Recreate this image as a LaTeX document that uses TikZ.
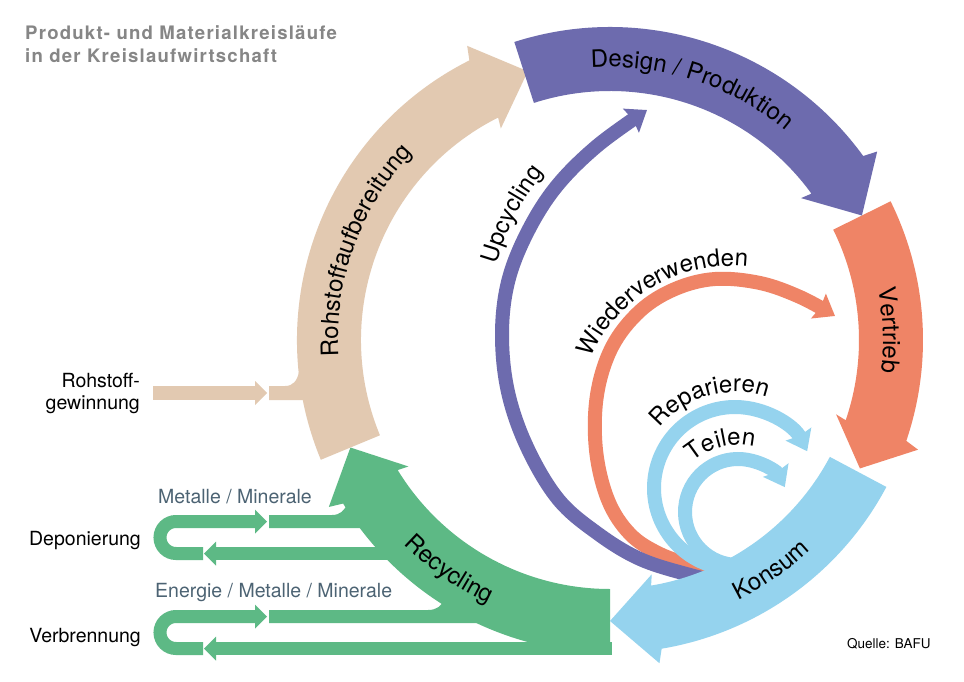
\documentclass[tikz,border=0pt]{standalone}
\usepackage{fontspec}
\setmainfont{TeX Gyre Heros}
\usetikzlibrary{arrows.meta,decorations.text}
\definecolor{cbeige}{HTML}{E2C9B1}
\definecolor{cpurple}{HTML}{6D6BAE}
\definecolor{corange}{HTML}{EF8466}
\definecolor{cblue}{HTML}{95D3EE}
\definecolor{cgreen}{HTML}{5DB985}
\definecolor{ctitle}{HTML}{868686}
\definecolor{cslate}{HTML}{4C6373}
\newcommand\bandfont{\fontsize{24}{28}\selectfont}
\newcommand\lblfont{\fontsize{19.5}{22.6}\selectfont}
\newcommand\titlefont{\fontsize{18.6}{24}\bfseries\addfontfeatures{LetterSpace=6.5}}
\newcommand\srcfont{\fontsize{13.5}{16}\selectfont}
% band arrow: colour, start angle, head base angle, tip angle
\newcommand\bandarrow[4]{%
  \fill[#1] (#2:313) arc[start angle=#2, end angle=#3, radius=313]
    -- ({#3+0.8}:327) -- (#4:281) -- ({#3-0.6}:238) -- (#3:249)
    arc[start angle=#3, end angle=#2, radius=249] -- cycle;}
\tikzset{
  flowarc/.style={line width=14pt, line cap=butt, -{Stealth[width=28pt,length=19pt,inset=2pt]}},
  strip/.style={line width=13pt, line cap=butt},
  arclabel/.style={decorate, decoration={text along path, text align=center, text={|\bandfont|#1}}},
}
\begin{document}
\begin{tikzpicture}[x=1pt,y=-1pt, every node/.style={inner sep=0pt, font=\lblfont}]
\useasboundingbox (0,0) rectangle (964,682);
\fill[white] (0,0) rectangle (964,682);

% title
\node[anchor=base west, text=ctitle, font=\titlefont] (title1) at (25,39.5) {Produkt- und Materialkreisläufe};
\node[anchor=base west, text=ctitle, font=\titlefont] (title2) at (25,63) {in der Kreislaufwirtschaft};

% ---- input / output strips ----
% Rohstoffgewinnung
\fill[cbeige] (153,386) rectangle (255,400);
\fill[cbeige] (255,381) -- (267,393) -- (255,405) -- cycle;
\fill[cbeige] (269,386) -- (285,386) .. controls (293,386) and (297,381) .. (299,372) -- (330,372) -- (330,400) -- (269,400) -- cycle;

% Deponierung
\draw[strip, cgreen] (256,521.5) -- (176,521.5) arc[start angle=270, end angle=90, radius=16] -- (203,553.5);
\fill[cgreen] (255,509.5) -- (267,521.5) -- (255,533.5) -- cycle;
\fill[cgreen] (269,515) -- (332,515) .. controls (340,515) and (344,511) .. (348,503) -- (385,503) -- (385,528) -- (269,528) -- cycle;
\fill[cgreen] (216,547) rectangle (420,560);
\fill[cgreen] (216,541.5) -- (204,553.5) -- (216,565.5) -- cycle;

% Verbrennung
\draw[strip, cgreen] (256,616.5) -- (176,616.5) arc[start angle=270, end angle=90, radius=16] -- (203,648.5);
\fill[cgreen] (255,604.5) -- (267,616.5) -- (255,628.5) -- cycle;
\fill[cgreen] (269,610) -- (428,610) .. controls (437,610) and (441,606) .. (445,599) -- (520,599) -- (520,623) -- (269,623) -- cycle;
\fill[cgreen] (216,642) rectangle (612,654.5);
\fill[cgreen] (216,636.5) -- (204,648.5) -- (216,660.5) -- cycle;

% ---- inner loops ----
\draw[flowarc, corange] plot[smooth, tension=0.6] coordinates {(728,578) (697,567) (660,554) (630,534) (608,500) (596,450) (597,395) (612,347) (640,311) (675,289) (715,279) (760,283) (800,297) (835,316)};
\draw[flowarc, cpurple] plot[smooth, tension=0.6] coordinates {(730,584) (690,575) (640,559) (597,533) (558,499) (527,447) (508,392) (502,335) (508,282) (527,233) (556,187) (597,146) (647,110)};
\draw[flowarc, cblue] (735,488) ++(95:81) arc[start angle=95, end angle=333, radius=81];
\draw[flowarc, cblue] (738,512) ++(95:53) arc[start angle=95, end angle=332, radius=53];

% ---- main ring ----
\begin{scope}[shift={(610,340)}]
\bandarrow{cgreen}{90}{148.5}{157.5}
\bandarrow{cbeige}{157.5}{243.3}{253}
\bandarrow{corange}{333.7}{378.8}{387.2}
\bandarrow{cblue}{388}{440.5}{450}
\bandarrow{cpurple}{252.2}{324}{333.7}
% band labels
\path[arclabel={Design / Produktion}] (248:273) arc[start angle=248, end angle=328, radius=273];
\path[arclabel={Vertrieb}] (323:273) arc[start angle=323, end angle=393, radius=273];
\path[arclabel={Rohstoffaufbereitung}] (160:272) arc[start angle=160, end angle=240, radius=272];
\path[arclabel={Konsum}] (95:290) arc[start angle=95, end angle=15, radius=290];
\path[arclabel={Recycling}] (165:290) arc[start angle=165, end angle=85, radius=290];
\end{scope}

% inner labels
\path[arclabel={Upcycling}] (749,335) ++(167:262) arc[start angle=167, end angle=247, radius=262];
\path[arclabel={Wiederverwenden}] (731,419) ++(195:153) arc[start angle=195, end angle=285, radius=153];
\path[arclabel={Reparieren}] (735,488) ++(209:96) arc[start angle=209, end angle=299, radius=96];
\path[arclabel={Teilen}] (738,512) ++(211:67) arc[start angle=211, end angle=301, radius=67];

% side labels
\node[anchor=base east] (rg1) at (140,387) {Rohstoff-};
\node[anchor=base east] (rg2) at (140,409.5) {gewinnung};
\node[anchor=base east] (dep) at (141,545) {Deponierung};
\node[anchor=base east] (verb) at (141,642) {Verbrennung};
\node[anchor=base west, text=cslate] (mm) at (158,503) {Metalle / Minerale};
\node[anchor=base west, text=cslate] (emm) at (155,597) {Energie / Metalle / Minerale};
\node[anchor=base west, font=\srcfont] (src) at (847,648) {Quelle: BAFU};
\end{tikzpicture}
\end{document}
